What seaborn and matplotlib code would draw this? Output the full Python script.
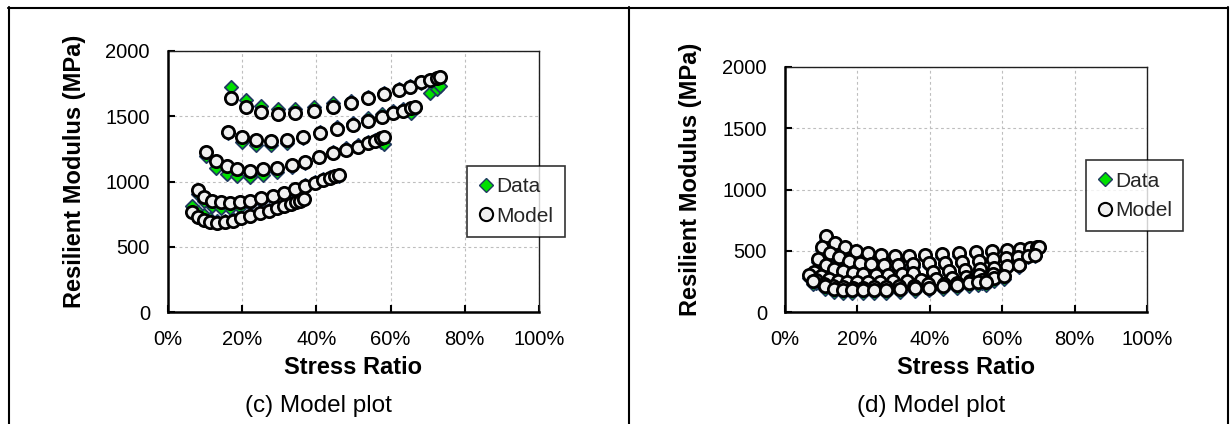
import matplotlib
matplotlib.use("Agg")
import matplotlib.pyplot as plt
import pandas as pd
import seaborn as sns
from matplotlib.lines import Line2D
from matplotlib.ticker import PercentFormatter, MultipleLocator

# ---------------- panel (c): stress ratio (%), model and measured modulus (MPa)
c1_ratio = [17.0, 21.0, 25.1, 29.6, 34.2, 39.4, 44.5, 49.3, 53.9, 58.2, 62.3, 65.2, 68.2, 70.6, 72.5, 73.3]
c1_model = [1638, 1569, 1535, 1520, 1525, 1540, 1573, 1599, 1638, 1668, 1701, 1726, 1760, 1778, 1790, 1798]
c1_data = [1725, 1625, 1580, 1552, 1557, 1568, 1598, 1617, 1650, 1678, 1708, 1730, 1758, 1680, 1712, 1728]

c2_ratio = [16.2, 19.9, 23.7, 27.7, 32.0, 36.4, 41.0, 45.5, 49.9, 53.9, 57.6, 60.6, 63.4, 65.5, 66.6]
c2_model = [1382, 1339, 1318, 1310, 1318, 1343, 1369, 1400, 1433, 1466, 1497, 1523, 1540, 1561, 1573]
c2_data = [1375, 1305, 1282, 1276, 1296, 1330, 1378, 1415, 1452, 1485, 1515, 1540, 1556, 1525, 1560]

c3_ratio = [10.3, 13.0, 15.8, 18.7, 22.1, 25.6, 29.3, 33.3, 37.0, 40.8, 44.6, 48.0, 51.2, 53.9, 55.8, 57.3, 58.1]
c3_model = [1224, 1157, 1121, 1093, 1083, 1093, 1106, 1126, 1152, 1190, 1216, 1241, 1267, 1292, 1313, 1331, 1339]
c3_data = [1195, 1105, 1060, 1040, 1035, 1050, 1075, 1110, 1145, 1190, 1225, 1255, 1280, 1300, 1320, 1300, 1290]

c4_ratio = [8.1, 9.8, 11.9, 14.2, 16.8, 19.4, 22.2, 25.2, 28.3, 31.2, 34.1, 37.0, 39.5, 41.9, 43.7, 45.1, 46.0]
c4_model = [935, 884, 853, 841, 838, 841, 853, 871, 891, 914, 940, 966, 991, 1011, 1029, 1042, 1050]
c4_data = [905, 850, 815, 800, 795, 805, 825, 850, 880, 910, 945, 975, 1000, 1020, 1035, 1045, 1040]

c5_ratio = [6.5, 8.1, 9.7, 11.3, 13.2, 15.4, 17.5, 19.7, 22.1, 24.8, 27.2, 29.4, 31.3, 33.2, 34.5, 35.6, 36.7]
c5_model = [764, 726, 705, 692, 684, 687, 700, 718, 736, 756, 776, 795, 812, 828, 841, 853, 864]
c5_data = [815, 770, 740, 715, 700, 700, 710, 725, 745, 765, 785, 805, 825, 840, 852, 860, 868]

# ---------------- panel (d)
d1_ratio = [11.3, 13.8, 16.6, 19.6, 22.8, 26.4, 30.3, 34.3, 38.8, 43.3, 48.2, 52.9, 57.1, 61.4, 64.9, 67.7, 69.5, 70.3]
d1_model = [624, 565, 534, 502, 480, 467, 460, 460, 463, 470, 478, 486, 496, 506, 515, 524, 530, 534]
d1_data = [590, 535, 505, 478, 458, 445, 440, 440, 445, 452, 460, 470, 480, 492, 502, 512, 520, 526]

d2_ratio = [10.1, 12.4, 15.0, 17.8, 20.7, 23.8, 27.4, 31.1, 35.3, 39.7, 44.2, 48.8, 53.7, 57.4, 61.0, 64.5, 67.2, 69.1]
d2_model = [534, 480, 448, 420, 399, 391, 385, 385, 390, 399, 404, 412, 420, 432, 440, 453, 458, 467]
d2_data = [505, 455, 422, 398, 380, 370, 365, 365, 370, 378, 386, 395, 405, 418, 428, 442, 450, 460]

d3_ratio = [9.2, 11.3, 13.6, 16.1, 18.7, 21.6, 25.1, 28.5, 32.2, 35.4, 41.0, 45.4, 49.7, 53.9, 57.7, 61.2, 64.7]
d3_model = [432, 385, 355, 332, 318, 309, 304, 304, 308, 316, 326, 334, 343, 352, 362, 372, 382]
d3_data = [405, 360, 330, 308, 295, 287, 283, 283, 288, 296, 306, 315, 325, 335, 346, 358, 370]

d4_ratio = [8.0, 10.0, 12.2, 14.6, 17.2, 20.0, 23.0, 26.2, 29.8, 33.6, 37.6, 41.8, 46.0, 50.0, 53.5, 57.5]
d4_model = [330, 290, 268, 255, 248, 245, 245, 247, 250, 256, 262, 270, 278, 288, 298, 310]
d4_data = [300, 265, 244, 232, 225, 222, 222, 224, 228, 234, 240, 250, 258, 268, 278, 290]

d5_ratio = [6.7, 8.6, 10.8, 13.2, 15.9, 18.7, 21.6, 24.6, 27.9, 31.6, 35.6, 39.6, 43.9, 47.4, 51.0, 54.5, 57.6, 60.5]
d5_model = [300, 258, 232, 214, 205, 200, 200, 202, 205, 210, 216, 225, 232, 240, 250, 262, 278, 292]
d5_data = [275, 235, 208, 190, 180, 176, 176, 178, 181, 186, 192, 200, 208, 216, 226, 240, 256, 272]

d6_ratio = [7.8, 11.0, 13.6, 15.9, 18.6, 21.5, 24.6, 27.9, 31.8, 35.8, 39.8, 43.6, 47.5, 50.7, 53.4, 55.5]
d6_model = [249, 209, 190, 182, 176, 176, 180, 182, 186, 192, 200, 214, 222, 236, 241, 241]
d6_data = [225, 185, 165, 157, 152, 152, 155, 158, 162, 168, 176, 190, 198, 210, 218, 220]

panel_titles = ["(c) Model plot", "(d) Model plot"]
x_label = "Stress Ratio"
y_label = "Resilient Modulus (MPa)"
kind_labels = ["Data", "Model"]

panel_c = [(c1_ratio, c1_model, c1_data), (c2_ratio, c2_model, c2_data),
           (c3_ratio, c3_model, c3_data), (c4_ratio, c4_model, c4_data),
           (c5_ratio, c5_model, c5_data)]
panel_d = [(d1_ratio, d1_model, d1_data), (d2_ratio, d2_model, d2_data),
           (d3_ratio, d3_model, d3_data), (d4_ratio, d4_model, d4_data),
           (d5_ratio, d5_model, d5_data), (d6_ratio, d6_model, d6_data)]


def long_frame(groups):
    rows = []
    for g, (ratio, model, data) in enumerate(groups):
        for r, m, d in zip(ratio, model, data):
            rows.append({"loading": g, "ratio": r / 100.0, "modulus": d, "kind": "Data"})
            rows.append({"loading": g, "ratio": r / 100.0, "modulus": m, "kind": "Model"})
    return pd.DataFrame(rows)


sns.set_theme(style="white")
plt.rcParams["font.family"] = ["Liberation Sans", "DejaVu Sans"]

W, H = 1231, 424
fig = plt.figure(figsize=(W / 100, H / 100), dpi=100)


def fx(px):
    return px / W


def fy(py):
    return 1 - py / H


GREEN = "#00E000"
NAVY = "#1F3A5F"
CIRCLE_FACE = "#F0F0F0"

# axes boxes in pixels: left, top, right, bottom
boxes = [(168, 51, 539, 312), (785, 67, 1147, 312)]
legend_anchor = [(0.806, 0.56), (0.831, 0.62)]
ylabel_x = [75, 690]
caption_x = [318, 931]

for i, groups in enumerate([panel_c, panel_d]):
    l, t, r, b = boxes[i]
    ax = fig.add_axes([fx(l), fy(b), fx(r) - fx(l), fy(t) - fy(b)])
    df = long_frame(groups)

    sns.scatterplot(data=df[df["kind"] == "Data"], x="ratio", y="modulus", ax=ax,
                    marker="D", s=46, color=GREEN, edgecolor=NAVY, linewidth=1.3,
                    legend=False, zorder=3)
    sns.scatterplot(data=df[df["kind"] == "Model"], x="ratio", y="modulus", ax=ax,
                    marker="o", s=78, color=CIRCLE_FACE, edgecolor="black", linewidth=2.0,
                    legend=False, zorder=4)

    ax.set_xlim(0, 1)
    ax.set_ylim(0, 2000)
    ax.xaxis.set_major_locator(MultipleLocator(0.2))
    ax.xaxis.set_major_formatter(PercentFormatter(1.0, decimals=0))
    ax.yaxis.set_major_locator(MultipleLocator(500))
    ax.grid(True, color="#BEBEBE", linestyle=(0, (2.5, 2.5)), linewidth=0.8)
    ax.set_axisbelow(True)

    for side in ["left", "bottom"]:
        ax.spines[side].set_linewidth(1.8)
        ax.spines[side].set_color("black")
    for side in ["top", "right"]:
        ax.spines[side].set_linewidth(1.0)
        ax.spines[side].set_color("#202020")
    ax.spines["bottom"].set_zorder(5)
    ax.spines["left"].set_zorder(5)

    ax.tick_params(axis="both", direction="in", length=5, width=1.5, color="black",
                   labelsize=14.5, labelcolor="black", pad=13,
                   bottom=True, left=True)

    ax.set_xlabel(x_label, fontsize=17, fontweight="bold", color="black")
    ax.set_ylabel(y_label, fontsize=17, fontweight="bold", color="black")
    ax.xaxis.set_label_coords(0.5, (b - 368) / (b - t))
    ax.xaxis.label.set_va("center")
    ax.yaxis.set_label_coords((ylabel_x[i] - l) / (r - l), 0.54)
    ax.yaxis.label.set_va("center")

    handles = [
        Line2D([], [], linestyle="none", marker="D", markersize=7,
               markerfacecolor=GREEN, markeredgecolor=NAVY, markeredgewidth=1.0),
        Line2D([], [], linestyle="none", marker="o", markersize=9.5,
               markerfacecolor=CIRCLE_FACE, markeredgecolor="black", markeredgewidth=1.5),
    ]
    leg = ax.legend(handles, kind_labels, loc="upper left", bbox_to_anchor=legend_anchor[i],
                    frameon=True, fancybox=False, shadow=False, fontsize=15,
                    handlelength=0.7, handletextpad=0.15, borderpad=0.55,
                    labelspacing=0.5, borderaxespad=0)
    leg.get_frame().set_edgecolor("black")
    leg.get_frame().set_linewidth(1.2)
    leg.get_frame().set_facecolor("white")
    leg.set_zorder(6)

    fig.text(fx(caption_x[i]), fy(406), panel_titles[i], ha="center", va="center",
             fontsize=17.5, color="black")

# table rules around the two panels
frame_kw = dict(transform=fig.transFigure, color="black", linewidth=1.5)
fig.add_artist(Line2D([fx(8), fx(1228)], [fy(7.5), fy(7.5)], **frame_kw))
fig.add_artist(Line2D([fx(8.5), fx(8.5)], [fy(7), fy(424)], **frame_kw))
fig.add_artist(Line2D([fx(628.5), fx(628.5)], [fy(7), fy(424)], **frame_kw))
fig.add_artist(Line2D([fx(1228), fx(1228)], [fy(7), fy(424)], **frame_kw))

fig.savefig("out.png", dpi=100, facecolor="white")
